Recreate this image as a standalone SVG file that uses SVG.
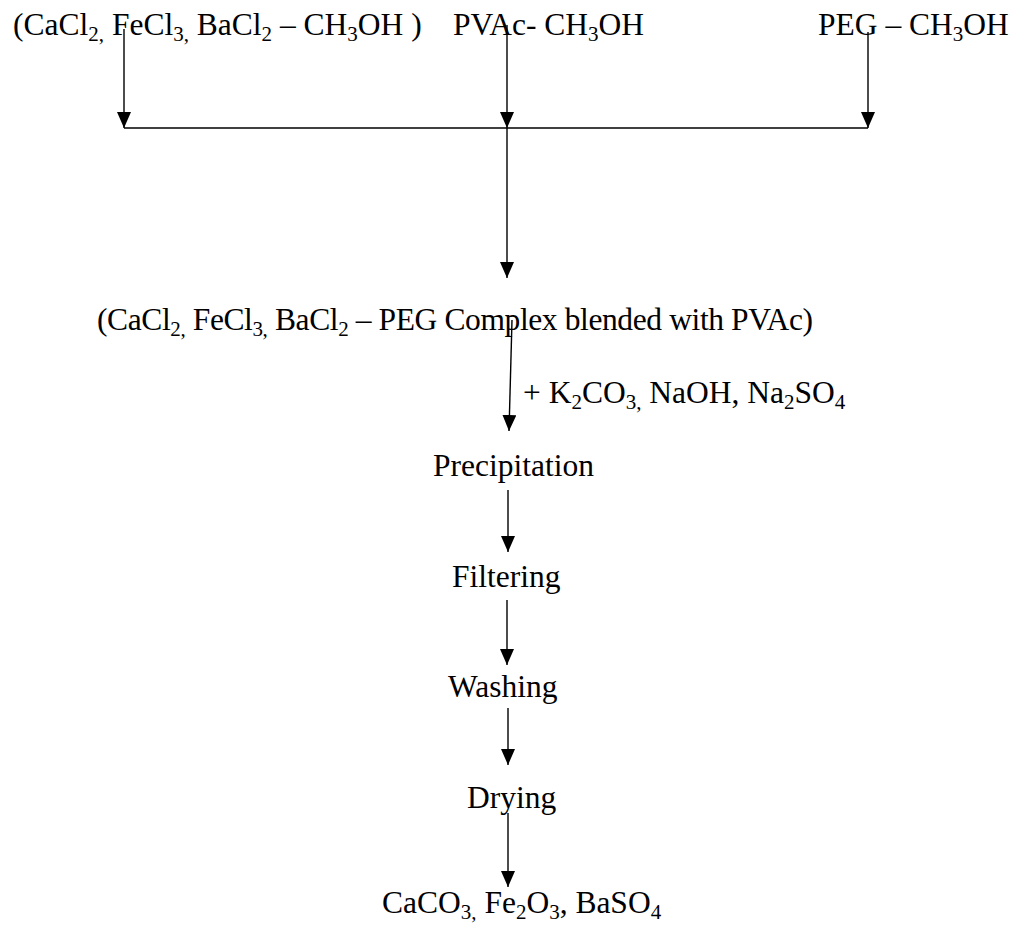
<svg xmlns="http://www.w3.org/2000/svg" width="1018" height="928" viewBox="0 0 1018 928">
<style>
text{font-family:"Liberation Serif","Times New Roman",serif;font-size:31.5px;fill:#000}
.s{font-size:21px}
.c line{stroke:#000;stroke-width:1.4}
</style>
<defs>
<marker id="ah" markerUnits="userSpaceOnUse" markerWidth="16" markerHeight="14" viewBox="0 0 16 14" refX="16" refY="7" orient="auto">
<path d="M0,0 L16,7 L0,14 z" fill="#000"/>
</marker>
</defs>
<rect width="1018" height="928" fill="#fff"/>
<g id="n1"><text x="13" y="35">(CaCl<tspan class="s" dy="6">2,</tspan><tspan dy="-6"> FeCl</tspan><tspan class="s" dy="6">3,</tspan><tspan dy="-6"> BaCl</tspan><tspan class="s" dy="6">2</tspan><tspan dy="-6"> – CH</tspan><tspan class="s" dy="6">3</tspan><tspan dy="-6">OH )</tspan></text></g>
<g id="n2"><text x="453" y="35">PVAc- CH<tspan class="s" dy="6">3</tspan><tspan dy="-6">OH</tspan></text></g>
<g id="n3"><text x="818" y="35">PEG – CH<tspan class="s" dy="6">3</tspan><tspan dy="-6">OH</tspan></text></g>
<g id="n4"><text x="97" y="330" textLength="716" lengthAdjust="spacing">(CaCl<tspan class="s" dy="6">2,</tspan><tspan dy="-6"> FeCl</tspan><tspan class="s" dy="6">3,</tspan><tspan dy="-6"> BaCl</tspan><tspan class="s" dy="6">2</tspan><tspan dy="-6"> – PEG Complex blended with PVAc)</tspan></text></g>
<g id="n5"><text x="523" y="403">+ K<tspan class="s" dy="6">2</tspan><tspan dy="-6">CO</tspan><tspan class="s" dy="6">3,</tspan><tspan dy="-6"> NaOH, Na</tspan><tspan class="s" dy="6">2</tspan><tspan dy="-6">SO</tspan><tspan class="s" dy="6">4</tspan></text></g>
<g id="n6"><text x="433" y="476">Precipitation</text></g>
<g id="n7"><text x="452" y="587">Filtering</text></g>
<g id="n8"><text x="448" y="697">Washing</text></g>
<g id="n9"><text x="467" y="808">Drying</text></g>
<g id="n10"><text x="382" y="913">CaCO<tspan class="s" dy="6">3,</tspan><tspan dy="-6"> Fe</tspan><tspan class="s" dy="6">2</tspan><tspan dy="-6">O</tspan><tspan class="s" dy="6">3</tspan><tspan dy="-6">, BaSO</tspan><tspan class="s" dy="6">4</tspan></text></g>
<g id="connectors" class="c">
<line x1="124" y1="29" x2="124" y2="128" marker-end="url(#ah)"/>
<line x1="507" y1="25" x2="507" y2="128" marker-end="url(#ah)"/>
<line x1="868" y1="32" x2="868" y2="128" marker-end="url(#ah)"/>
<line x1="124" y1="128" x2="868" y2="128"/>
<line x1="507" y1="128" x2="507" y2="278" marker-end="url(#ah)"/>
<line x1="512" y1="320" x2="509" y2="431" marker-end="url(#ah)"/>
<line x1="508" y1="490" x2="508" y2="552" marker-end="url(#ah)"/>
<line x1="507" y1="600" x2="507" y2="665" marker-end="url(#ah)"/>
<line x1="508" y1="708" x2="508" y2="765" marker-end="url(#ah)"/>
<line x1="508" y1="813" x2="508" y2="887" marker-end="url(#ah)"/>
</g>
</svg>
